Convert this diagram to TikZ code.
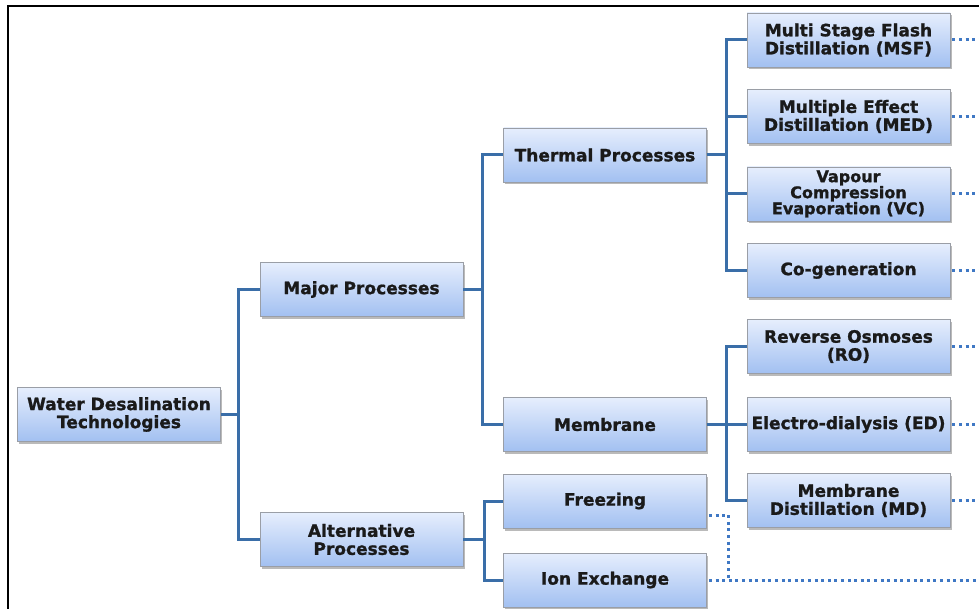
\documentclass[tikz,border=0pt]{standalone}
\usepackage{fontspec}
\setmainfont[BoldFeatures={FakeBold=1.2}]{DejaVu Sans}
\usetikzlibrary{shadows}
\definecolor{linkblue}{HTML}{3A6EA8}
\definecolor{dotblue}{HTML}{3F78C4}
\definecolor{boxtop}{HTML}{E6EEFD}
\definecolor{boxbot}{HTML}{A2C0F1}
\definecolor{boxedge}{HTML}{9A9EA6}
\definecolor{txt}{HTML}{1A1A1A}
\begin{document}
\begin{tikzpicture}[x=1pt,y=-1pt,
  box/.style={draw=boxedge, line width=0.8pt, top color=boxtop, bottom color=boxbot,
    minimum width=203pt, minimum height=54pt, inner sep=0pt, align=center,
    font=\fontsize{17}{18}\selectfont\bfseries, text=txt,
    drop shadow={shadow xshift=1.5pt, shadow yshift=-2.5pt, opacity=0.45, fill=black!60}},
  link/.style={draw=linkblue, line width=3pt},
  dotln/.style={draw=dotblue, line width=3pt, dash pattern=on 3pt off 3.6pt}]
\useasboundingbox (0,0) rectangle (979,609);
\draw[line width=2pt] (7.5,609) -- (7.5,6) -- (979,6);

\node[box] (wdt) at (119,414.5) {Water Desalination\\Technologies};
\node[box] (major) at (361.5,289.5) {Major Processes};
\node[box] (alt) at (361.5,539.5) {Alternative\\Processes};
\node[box] (thermal) at (605,155) {Thermal Processes};
\node[box] (membrane) at (605,424.5) {Membrane};
\node[box] (freezing) at (605,501) {Freezing};
\node[box] (ion) at (605,580) {Ion Exchange};
\node[box] (msf) at (848.5,40) {Multi Stage Flash\\Distillation (MSF)};
\node[box] (med) at (848.5,116.5) {Multiple Effect\\Distillation (MED)};
\node[box, font=\fontsize{16}{16}\selectfont\bfseries] (vc) at (848.5,194) {Vapour\\Compression\\Evaporation (VC)};
\node[box] (cogen) at (848.5,270.5) {Co-generation};
\node[box] (ro) at (848.5,346.5) {Reverse Osmoses\\(RO)};
\node[box] (ed) at (848.5,424.5) {Electro-dialysis (ED)};
\node[box] (md) at (848.5,500.5) {Membrane\\Distillation (MD)};

\coordinate (edge) at (979,0);
\coordinate (vx) at (728.5,0);

% solid tree connectors
\draw[link] (wdt.east) -- ++(18,0) |- (major.west);
\draw[link] (wdt.east) -- ++(18,0) |- (alt.west);
\draw[link] (major.east) -- ++(19,0) |- (thermal.west);
\draw[link] (major.east) -- ++(19,0) |- (membrane.west);
\draw[link] (alt.east) -- ++(21,0) |- (freezing.west);
\draw[link] (alt.east) -- ++(21,0) |- (ion.west);
\foreach \t in {msf,med,vc,cogen}
  \draw[link] (thermal.east) -- ++(20,0) |- (\t.west);
\foreach \t in {ro,ed,md}
  \draw[link] (membrane.east) -- ++(20,0) |- (\t.west);

% dotted continuations
\foreach \t in {msf,med,vc,cogen,ro,ed,md}
  \draw[dotln] ([xshift=2pt]\t.east) -- (\t.east -| edge);
\draw[dotln] ([xshift=2pt,yshift=-14pt]freezing.east) -| (ion.east -| vx);
\draw[dotln] ([xshift=2pt]ion.east) -- (ion.east -| edge);
\end{tikzpicture}
\end{document}
